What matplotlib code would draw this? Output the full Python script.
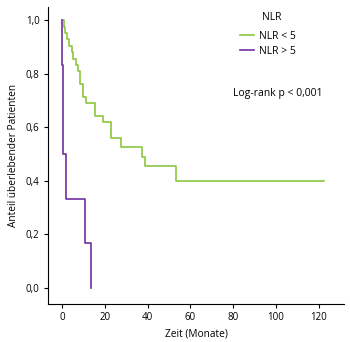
import matplotlib
matplotlib.use('Agg')
import matplotlib.pyplot as plt

# Kaplan-Meier curves (time in months, survival fraction)
t_low = [0, 0.8, 1.6, 2.4, 3.4, 4.5, 5.0, 6.5, 7.6, 8.4, 9.7, 11.1, 15.7, 19.3, 22.9, 27.4, 37.2, 38.9, 53.3, 122.5]
s_low = [1.0, 0.976, 0.952, 0.929, 0.905, 0.881, 0.857, 0.833, 0.81, 0.762, 0.714, 0.69, 0.643, 0.619, 0.56, 0.527, 0.49, 0.456, 0.40, 0.40]

t_high = [0, 0.2, 0.4, 0.6, 1.9, 10.7, 13.5]
s_high = [1.0, 0.833, 0.667, 0.5, 0.333, 0.167, 0.0]

xticks = [0, 20, 40, 60, 80, 100, 120]
yticks = [0.0, 0.2, 0.4, 0.6, 0.8, 1.0]
ytick_labels = ['0,0', '0,2', '0,4', '0,6', '0,8', '1,0']

plt.rcParams['font.family'] = ['Open Sans', 'DejaVu Sans']

fig = plt.figure(figsize=(3.5, 3.42), dpi=100)
ax = fig.add_axes([0.137, 0.111, 0.846, 0.869])

green = '#8cc63f'
purple = '#7030a0'
ax.step(t_low, s_low, where='post', color=green, lw=1.2, label='NLR < 5')
ax.step(t_high, s_high, where='post', color=purple, lw=1.2, label='NLR > 5')

ax.set_xlim(-6.5, 131.8)
ax.set_ylim(-0.06, 1.05)
ax.set_xticks(xticks)
ax.set_yticks(yticks)
ax.set_yticklabels(ytick_labels)
ax.tick_params(direction='out', length=3, width=0.8, labelsize=7, pad=3)
for side in ['top', 'right']:
    ax.spines[side].set_visible(False)
for side in ['left', 'bottom']:
    ax.spines[side].set_linewidth(0.8)

ax.set_xlabel('Zeit (Monate)', fontsize=7.3, labelpad=4)
ax.set_ylabel('Anteil überlebender Patienten', fontsize=7.3, labelpad=5)

# legend entries plus a separate title (wider gap than legend's own title)
ax.legend(loc='upper left', bbox_to_anchor=(0.649, 0.919),
          frameon=False, fontsize=7.5, borderpad=0, borderaxespad=0,
          handlelength=1.3, handletextpad=0.5, labelspacing=0.35)
ax.text(0.757, 0.963, 'NLR', transform=ax.transAxes,
        ha='center', va='center', fontsize=7.5)
ax.text(0.777, 0.71, 'Log-rank p < 0,001', transform=ax.transAxes,
        ha='center', va='center', fontsize=7.5)

fig.savefig('out.png', dpi=100)
